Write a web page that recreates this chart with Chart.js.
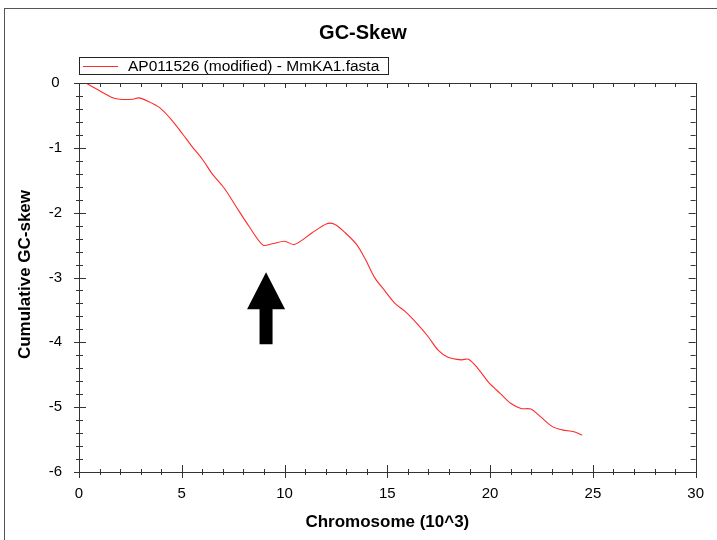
<!DOCTYPE html>
<html>
<head>
<meta charset="utf-8">
<script src="https://cdn.jsdelivr.net/npm/chart.js@4.4.0/dist/chart.umd.min.js"></script>
<style>
  html, body { margin: 0; padding: 0; background: #fff; }
  #wrap { width: 717px; height: 540px; }
</style>
</head>
<body>
<div id="wrap"><canvas id="gcChart" width="717" height="540"></canvas></div>
<script>
// Cumulative GC-skew (x in 10^3 bp)
const positions = [0.4, 1.58, 1.98, 2.63, 2.9, 3.35, 3.92, 4.48, 5.05, 5.5, 6.01, 6.5, 7.06, 7.63, 8.27, 8.95,
    9.4, 10.0, 10.48, 11.34, 12.06, 12.43, 12.95, 13.5, 13.9, 14.4, 14.89, 15.37, 15.85, 16.5, 16.98,
    17.47, 17.95, 18.6, 18.95, 19.4, 19.96, 20.5, 21.0, 21.5, 21.98, 22.46, 23.03, 23.5, 24.08, 24.48];
const skewValues = [-0.01, -0.22, -0.25, -0.25, -0.23, -0.28, -0.38, -0.56, -0.79, -0.98, -1.18, -1.41, -1.62, -1.90, -2.21, -2.50,
    -2.48, -2.44, -2.49, -2.31, -2.17, -2.18, -2.31, -2.49, -2.70, -3.01, -3.21, -3.40, -3.52, -3.73, -3.91,
    -4.12, -4.23, -4.27, -4.26, -4.40, -4.63, -4.79, -4.94, -5.02, -5.03, -5.15, -5.30, -5.35, -5.38, -5.43];

const seriesLabel = 'AP011526 (modified) - MmKA1.fasta';
const chartTitle = 'GC-Skew';
const xTitle = 'Chromosome (10^3)';
const yTitle = 'Cumulative GC-skew';

// arrow annotation, in data units: tip, head base, tail
const arrowX = 9.1;
const arrowY = [-2.92, -3.49, -4.03];

const Colors = {
    line: '#ff2a2a',
    axis: '#333333',
    text: '#000000'
};
const FONT = '"Liberation Sans", Arial, sans-serif';

// draws frame, titles, legend, tick marks and the arrow
const decorations = {
    id: 'decorations',
    afterDraw(chart) {
        const ctx = chart.ctx;
        const a = chart.chartArea;
        const xs = chart.scales.x, ys = chart.scales.y;
        ctx.save();

        // outer frame
        ctx.strokeStyle = '#555';
        ctx.lineWidth = 1;
        ctx.strokeRect(4.5, 8.5, 720, 540);

        // plot border
        ctx.strokeStyle = Colors.axis;
        ctx.strokeRect(Math.round(a.left) + 0.5, Math.round(a.top) + 0.5,
            Math.round(a.right - a.left), Math.round(a.bottom - a.top));

        // tick marks
        ctx.beginPath();
        for (let v = 0; v <= 30; v += 1) {
            const px = Math.round(xs.getPixelForValue(v)) + 0.5;
            const major = v % 5 === 0;
            ctx.moveTo(px, a.bottom - (major ? 7 : 3)); ctx.lineTo(px, a.bottom + (major ? 6 : 3));
            ctx.moveTo(px, a.top); ctx.lineTo(px, a.top + (major ? 5 : 4));
        }
        for (let i = 0; i <= 30; i++) {
            const v = -i * 0.2;
            const py = Math.round(ys.getPixelForValue(v)) + 0.5;
            const major = i % 5 === 0;
            ctx.moveTo(a.left - (major ? 5 : 3), py); ctx.lineTo(a.left + (major ? 7 : 4), py);
            ctx.moveTo(a.right, py); ctx.lineTo(a.right - (major ? 7 : 5), py);
        }
        ctx.stroke();

        // chart title
        ctx.fillStyle = Colors.text;
        ctx.textAlign = 'center';
        ctx.textBaseline = 'middle';
        ctx.font = 'bold 20px ' + FONT;
        ctx.fillText(chartTitle, 363, 33);

        // legend box
        ctx.strokeStyle = '#222';
        ctx.strokeRect(79.5, 57.5, 309, 17);
        ctx.strokeStyle = Colors.line;
        ctx.beginPath();
        ctx.moveTo(83, 66.5); ctx.lineTo(118, 66.5);
        ctx.stroke();
        ctx.font = '15.5px ' + FONT;
        ctx.textAlign = 'left';
        ctx.fillText(seriesLabel, 128, 66.5);

        // axis titles
        ctx.font = 'bold 17px ' + FONT;
        ctx.textAlign = 'center';
        ctx.fillText(xTitle, (a.left + a.right) / 2, 522);
        ctx.save();
        ctx.translate(25, (a.top + a.bottom) / 2 - 3);
        ctx.rotate(-Math.PI / 2);
        ctx.fillText(yTitle, 0, 0);
        ctx.restore();

        // arrow
        const cx = xs.getPixelForValue(arrowX);
        const tip = ys.getPixelForValue(arrowY[0]);
        const base = ys.getPixelForValue(arrowY[1]);
        const tail = ys.getPixelForValue(arrowY[2]);
        ctx.fillStyle = '#000';
        ctx.beginPath();
        ctx.moveTo(cx, tip);
        ctx.lineTo(cx + 19, base);
        ctx.lineTo(cx + 6.5, base);
        ctx.lineTo(cx + 6.5, tail);
        ctx.lineTo(cx - 6.5, tail);
        ctx.lineTo(cx - 6.5, base);
        ctx.lineTo(cx - 19, base);
        ctx.closePath();
        ctx.fill();

        ctx.restore();
    }
};

new Chart(document.getElementById('gcChart').getContext('2d'), {
    type: 'line',
    data: {
        datasets: [{
            label: seriesLabel,
            data: positions.map((x, i) => ({ x: x, y: skewValues[i] })),
            borderColor: Colors.line,
            borderWidth: 1.1,
            pointRadius: 0,
            tension: 0.3,
            fill: false
        }]
    },
    options: {
        responsive: false,
        animation: false,
        layout: { padding: { top: 83, right: 18, left: 0, bottom: 0 } },
        plugins: {
            legend: { display: false },
            title: { display: false },
            tooltip: { enabled: false }
        },
        scales: {
            x: {
                type: 'linear',
                min: 0,
                max: 30,
                grid: { display: false, drawTicks: false },
                border: { display: false },
                ticks: { stepSize: 5, color: Colors.text, padding: 13, font: { family: FONT, size: 15 } },
                afterFit: (scale) => { scale.height = 68; }
            },
            y: {
                min: -6,
                max: 0,
                grid: { display: false, drawTicks: false },
                border: { display: false },
                ticks: { stepSize: 1, color: Colors.text, padding: 17, crossAlign: 'center', font: { family: FONT, size: 15 } },
                afterFit: (scale) => { scale.width = 79; }
            }
        }
    },
    plugins: [decorations]
});
</script>
</body>
</html>
